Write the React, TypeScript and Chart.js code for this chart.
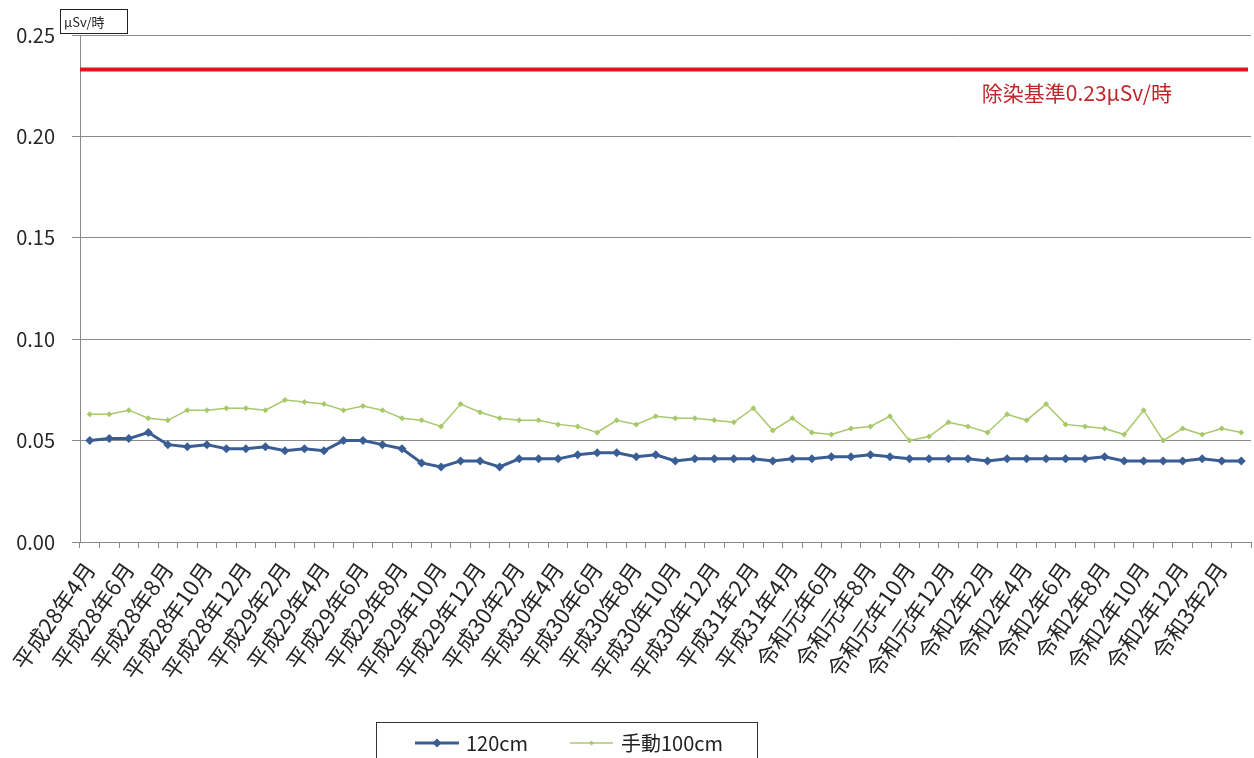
import React, { useEffect, useRef } from 'react';
import { Chart, registerables } from 'chart.js';

Chart.register(...registerables);

const MONTH_LABELS: string[] = [
  '平成28年4月', '平成28年5月', '平成28年6月', '平成28年7月', '平成28年8月', '平成28年9月',
  '平成28年10月', '平成28年11月', '平成28年12月',
  '平成29年1月', '平成29年2月', '平成29年3月', '平成29年4月', '平成29年5月', '平成29年6月',
  '平成29年7月', '平成29年8月', '平成29年9月', '平成29年10月', '平成29年11月', '平成29年12月',
  '平成30年1月', '平成30年2月', '平成30年3月', '平成30年4月', '平成30年5月', '平成30年6月',
  '平成30年7月', '平成30年8月', '平成30年9月', '平成30年10月', '平成30年11月', '平成30年12月',
  '平成31年1月', '平成31年2月', '平成31年3月', '平成31年4月',
  '令和元年5月', '令和元年6月', '令和元年7月', '令和元年8月', '令和元年9月', '令和元年10月',
  '令和元年11月', '令和元年12月',
  '令和2年1月', '令和2年2月', '令和2年3月', '令和2年4月', '令和2年5月', '令和2年6月',
  '令和2年7月', '令和2年8月', '令和2年9月', '令和2年10月', '令和2年11月', '令和2年12月',
  '令和3年1月', '令和3年2月', '令和3年3月',
];

const SERIES_NAMES: string[] = ['120cm', '手動100cm'];

const VALUES_120CM: number[] = [
  0.050, 0.051, 0.051, 0.054, 0.048, 0.047, 0.048, 0.046, 0.046, 0.047,
  0.045, 0.046, 0.045, 0.050, 0.050, 0.048, 0.046, 0.039, 0.037, 0.040,
  0.040, 0.037, 0.041, 0.041, 0.041, 0.043, 0.044, 0.044, 0.042, 0.043,
  0.040, 0.041, 0.041, 0.041, 0.041, 0.040, 0.041, 0.041, 0.042, 0.042,
  0.043, 0.042, 0.041, 0.041, 0.041, 0.041, 0.040, 0.041, 0.041, 0.041,
  0.041, 0.041, 0.042, 0.040, 0.040, 0.040, 0.040, 0.041, 0.040, 0.040,
];

const VALUES_100CM: number[] = [
  0.063, 0.063, 0.065, 0.061, 0.060, 0.065, 0.065, 0.066, 0.066, 0.065,
  0.070, 0.069, 0.068, 0.065, 0.067, 0.065, 0.061, 0.060, 0.057, 0.068,
  0.064, 0.061, 0.060, 0.060, 0.058, 0.057, 0.054, 0.060, 0.058, 0.062,
  0.061, 0.061, 0.060, 0.059, 0.066, 0.055, 0.061, 0.054, 0.053, 0.056,
  0.057, 0.062, 0.050, 0.052, 0.059, 0.057, 0.054, 0.063, 0.060, 0.068,
  0.058, 0.057, 0.056, 0.053, 0.065, 0.050, 0.056, 0.053, 0.056, 0.054,
];

const Y_MIN = 0;
const Y_MAX = 0.25;
const Y_STEP = 0.05;

const REF_LEVEL = 0.233;
const REF_TEXT = '除染基準0.23μSv/時';
const UNIT_TEXT = 'μSv/時';

const FONT = '"Noto Sans CJK JP", "Noto Sans", sans-serif';
const BLUE = '#3A5D94';
const GREEN = '#A8C86A';
const RED = '#E0161B';
const GRID = '#8A8A8A';

function drawDiamond(ctx: CanvasRenderingContext2D, x: number, y: number, r: number, color: string) {
  ctx.beginPath();
  ctx.moveTo(x, y - r);
  ctx.lineTo(x + r, y);
  ctx.lineTo(x, y + r);
  ctx.lineTo(x - r, y);
  ctx.closePath();
  ctx.fillStyle = color;
  ctx.fill();
}

const overlayPlugin = {
  id: 'overlay',
  afterDatasetsDraw(chart: any) {
    const { ctx, chartArea, scales } = chart;
    const y = scales.y.getPixelForValue(REF_LEVEL);
    ctx.save();
    // reference line
    ctx.strokeStyle = RED;
    ctx.lineWidth = 4;
    ctx.beginPath();
    ctx.moveTo(chartArea.left, y);
    ctx.lineTo(chartArea.right - 3, y);
    ctx.stroke();
    // reference text
    ctx.fillStyle = '#C2262B';
    ctx.font = `21px ${FONT}`;
    ctx.textAlign = 'right';
    ctx.textBaseline = 'middle';
    ctx.fillText(REF_TEXT, chartArea.right - 79, y + 24);

    // unit box
    ctx.font = `13px ${FONT}`;
    ctx.textAlign = 'left';
    const bx = chartArea.left - 20;
    const by = chartArea.top - 26;
    const bw = 67;
    const bh = 24;
    ctx.fillStyle = '#ffffff';
    ctx.fillRect(bx, by, bw, bh);
    ctx.strokeStyle = '#222';
    ctx.lineWidth = 1;
    ctx.strokeRect(bx + 0.5, by + 0.5, bw, bh);
    ctx.fillStyle = '#222';
    ctx.fillText(UNIT_TEXT, bx + 4, by + bh / 2 + 1);

    // legend
    const ds = chart.data.datasets;
    const lx = 376;
    const ly = 722;
    ctx.fillStyle = '#ffffff';
    ctx.fillRect(lx, ly, 381, 40);
    ctx.strokeStyle = '#333';
    ctx.lineWidth = 1;
    ctx.strokeRect(lx + 0.5, ly + 0.5, 381, 40);
    const cy = ly + 21;
    const items = [
      { x0: 415, x1: 459, tx: 466, w: 3, r: 4.5 },
      { x0: 570, x1: 613, tx: 621, w: 1.5, r: 2.5 },
    ];
    ctx.font = `20px ${FONT}`;
    ctx.textBaseline = 'middle';
    items.forEach((it, i) => {
      const color = ds[i].borderColor;
      ctx.strokeStyle = color;
      ctx.lineWidth = it.w;
      ctx.beginPath();
      ctx.moveTo(it.x0, cy);
      ctx.lineTo(it.x1, cy);
      ctx.stroke();
      drawDiamond(ctx, (it.x0 + it.x1) / 2, cy, it.r, color);
      ctx.fillStyle = '#222';
      ctx.fillText(ds[i].label, it.tx, cy);
    });
    ctx.restore();
  },
};

export default function App() {
  const canvasRef = useRef<HTMLCanvasElement | null>(null);

  useEffect(() => {
    if (!canvasRef.current) return;
    const chart = new Chart(canvasRef.current, {
      type: 'line',
      data: {
        labels: MONTH_LABELS,
        datasets: [
          {
            label: SERIES_NAMES[0],
            data: VALUES_120CM,
            borderColor: BLUE,
            backgroundColor: BLUE,
            borderWidth: 3,
            pointStyle: 'rectRot',
            pointRadius: 4.5,
            pointBorderWidth: 0,
            tension: 0,
          },
          {
            label: SERIES_NAMES[1],
            data: VALUES_100CM,
            borderColor: GREEN,
            backgroundColor: GREEN,
            borderWidth: 1.5,
            pointStyle: 'rectRot',
            pointRadius: 3,
            pointBorderWidth: 0,
            tension: 0,
          },
        ],
      },
      options: {
        animation: false,
        responsive: true,
        maintainAspectRatio: false,
        layout: { padding: { top: 35, right: 3, left: 0, bottom: 0 }, autoPadding: false } as any,
        plugins: {
          legend: { display: false },
          tooltip: { enabled: false },
        },
        font: { family: FONT } as any,
        scales: {
          x: {
            type: 'category',
            offset: true,
            grid: {
              display: true,
              drawOnChartArea: false,
              drawTicks: true,
              tickLength: 6,
              offset: true,
              color: GRID,
            },
            border: { color: GRID, width: 1 },
            ticks: {
              autoSkip: false,
              minRotation: 55,
              maxRotation: 55,
              padding: 9,
              color: '#262626',
              font: { family: FONT, size: 22 },
              callback: (_v: any, i: number) => (i % 2 === 0 ? MONTH_LABELS[i] : ''),
            },
            afterFit: (scale: any) => {
              scale.height = 216;
              scale.paddingLeft = 0;
              scale.paddingRight = 0;
            },
          },
          y: {
            min: Y_MIN,
            max: Y_MAX,
            grid: { color: GRID, tickLength: 8, lineWidth: 1 },
            border: { color: GRID, width: 1 },
            ticks: {
              stepSize: Y_STEP,
              padding: 17,
              color: '#262626',
              font: { family: FONT, size: 20 },
              callback: (v: any) => Number(v).toFixed(2),
            },
            afterFit: (scale: any) => {
              scale.width = 80;
              scale.paddingTop = 0;
              scale.paddingBottom = 0;
            },
          },
        },
      },
      plugins: [overlayPlugin],
    });
    return () => chart.destroy();
  }, []);

  return (
    <div style={{ position: 'fixed', left: 0, top: 0, width: 1254, height: 758, background: '#fff' }}>
      <canvas ref={canvasRef} />
    </div>
  );
}
